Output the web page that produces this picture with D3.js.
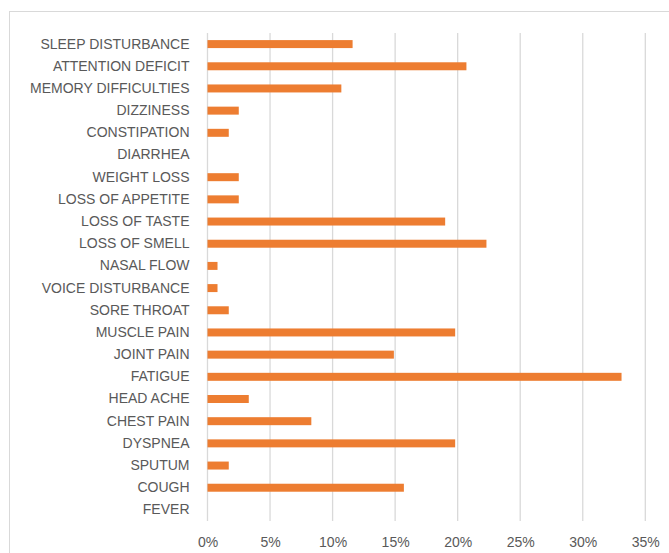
<!DOCTYPE html>
<html>
<head>
<meta charset="utf-8">
<script src="https://cdn.jsdelivr.net/npm/d3@7"></script>
<style>
  body { margin: 0; background: #fff; }
  svg text { font-family: "Liberation Sans", Arial, sans-serif; fill: #595959; }
</style>
</head>
<body>
<svg class="chart"></svg>
<script>
const W = 669, H = 553;
const margin = {top: 33, right: 24, bottom: 32, left: 207.5},
      width = W - margin.left - margin.right,
      height = H - margin.top - margin.bottom;

// symptoms, top to bottom as shown
const symptoms = ["SLEEP DISTURBANCE", "ATTENTION DEFICIT", "MEMORY DIFFICULTIES", "DIZZINESS",
  "CONSTIPATION", "DIARRHEA", "WEIGHT LOSS", "LOSS OF APPETITE", "LOSS OF TASTE", "LOSS OF SMELL",
  "NASAL FLOW", "VOICE DISTURBANCE", "SORE THROAT", "MUSCLE PAIN", "JOINT PAIN", "FATIGUE",
  "HEAD ACHE", "CHEST PAIN", "DYSPNEA", "SPUTUM", "COUGH", "FEVER"];
// share of patients (%)
const shares = [11.6, 20.7, 10.7, 2.5, 1.7, 0, 2.5, 2.5, 19.0, 22.3, 0.8, 0.8, 1.7, 19.8, 14.9, 33.1,
  3.3, 8.3, 19.8, 1.7, 15.7, 0];
const ticks = [0, 5, 10, 15, 20, 25, 30, 35];

const data = symptoms.map((s, i) => ({name: s, v: shares[i]}));

const svg = d3.select(".chart").attr("width", W).attr("height", H);

// outer chart border
svg.append("rect")
   .attr("x", 9.5).attr("y", 11.5)
   .attr("width", W).attr("height", H)
   .style("fill", "none").style("stroke", "#d9d9d9");

const chart = svg.append("g")
  .attr("transform", "translate(" + margin.left + "," + margin.top + ")");

let x = d3.scaleLinear().domain([0, 35]).range([0, 437.8]);
let y = d3.scaleBand().domain(symptoms).range([0, 488]).paddingInner(0.64).paddingOuter(0.32);

// gridlines
chart.selectAll(".grid")
  .data(ticks)
  .enter().append("line")
  .attr("x1", d => x(d)).attr("x2", d => x(d))
  .attr("y1", 0).attr("y2", 488)
  .style("stroke", "#d9d9d9").style("stroke-width", 1.3);

// x tick labels
let xAxis = d3.axisBottom(x).tickValues(ticks).tickSize(0).tickPadding(0)
  .tickFormat(d => d + "%");
chart.append("g")
  .attr("transform", "translate(0,509)")
  .call(xAxis)
  .call(g => g.select(".domain").remove())
  .selectAll("text")
  .attr("y", 0).attr("dy", "0.35em")
  .style("font-size", "14px");

// y labels
let yAxis = d3.axisLeft(y).tickSize(0).tickPadding(18);
chart.append("g")
  .call(yAxis)
  .call(g => g.select(".domain").remove())
  .selectAll("text")
  .style("font-size", "14px");

// bars
chart.selectAll(".bar")
  .data(data)
  .enter().append("rect")
  .attr("class", "bar")
  .attr("x", 0)
  .attr("y", d => y(d.name))
  .attr("width", d => x(d.v))
  .attr("height", y.bandwidth())
  .style("fill", "#ed7d31");
</script>
</body>
</html>
